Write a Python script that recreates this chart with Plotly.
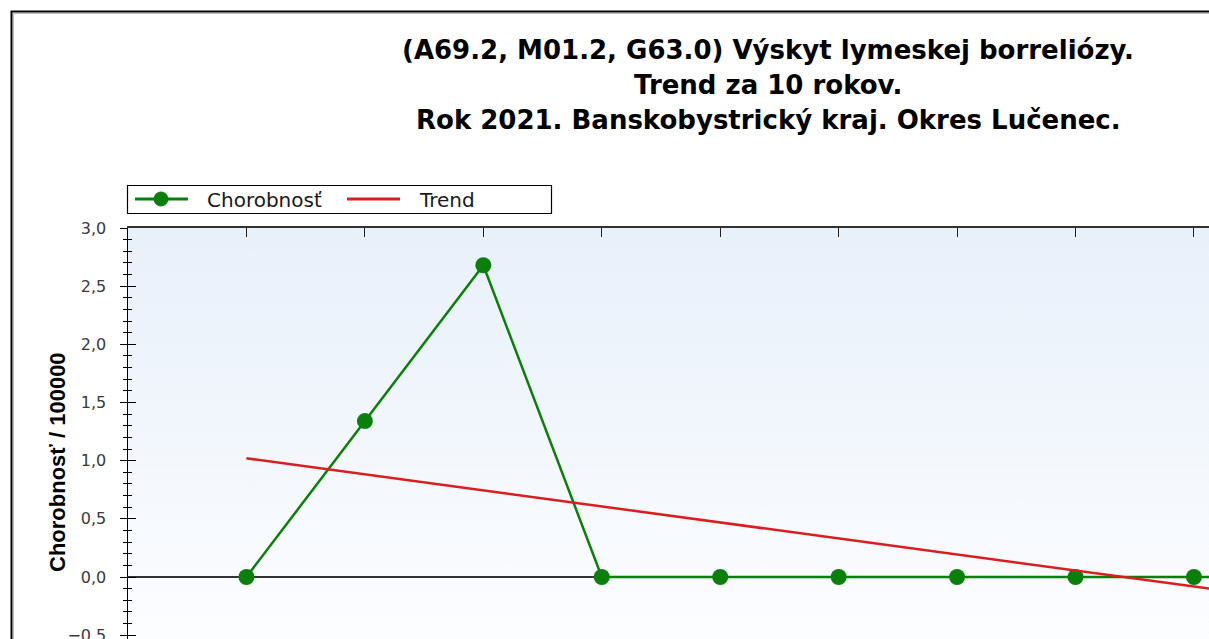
import base64
import plotly.graph_objects as go

# ---- data ----
years = [2012, 2013, 2014, 2015, 2016, 2017, 2018, 2019, 2020, 2021]
chorobnost = [0.0, 1.34, 2.68, 0.0, 0.0, 0.0, 0.0, 0.0, 0.0, 0.0]
trend_years = [2012, 2021]
trend_values = [1.02, -0.22]
title_lines = [
    "(A69.2, M01.2, G63.0) Výskyt lymeskej borreliózy.",
    "Trend za 10 rokov.",
    "Rok 2021. Banskobystrický kraj. Okres Lučenec.",
]
y_label = "Chorobnosť / 100000"
series_names = ["Chorobnosť", "Trend"]

# ---- geometry (pixels, in screenshot coordinates) ----
W, H = 1209, 639
L, T = 128, 228
PW, PH = W - L, H - T


def px_x(p):
    return (p - L) / PW


def px_y(p):
    return 1 + (T - p) / PH


GREEN = "#0a800a"
RED = "#d81e1e"

fig = go.Figure()
fig.add_trace(go.Scatter(
    x=years, y=chorobnost, name=series_names[0], mode="lines+markers",
    line=dict(color=GREEN, width=2.5), marker=dict(color=GREEN, size=16),
    hoverinfo="skip", showlegend=False))
fig.add_trace(go.Scatter(
    x=trend_years, y=trend_values, name=series_names[1], mode="lines",
    line=dict(color=RED, width=2.5), yaxis="y2", hoverinfo="skip",
    showlegend=False))

svg = ('<svg xmlns="http://www.w3.org/2000/svg" width="10" height="100" '
       'preserveAspectRatio="none"><defs><linearGradient id="g" x1="0" y1="0" '
       'x2="0" y2="1"><stop offset="0" stop-color="#e8f0fa"/>'
       '<stop offset="1" stop-color="#fcfdff"/></linearGradient></defs>'
       '<rect width="10" height="100" fill="url(#g)"/></svg>')
src = "data:image/svg+xml;base64," + base64.b64encode(svg.encode()).decode()

yr = [-0.533, 3.0]
common_minor = dict(dtick=0.1, ticklen=4, tickcolor="black", tickwidth=1)

annotations = []
for i, line in enumerate(title_lines):
    annotations.append(dict(
        text="<b>" + line + "</b>", xref="paper", yref="paper",
        x=px_x(768), y=px_y(50 + 35 * i), xanchor="center", yanchor="middle",
        showarrow=False, font=dict(family="DejaVu Sans", size=26, color="black")))
annotations.append(dict(
    text="<b>" + y_label + "</b>", xref="paper", yref="paper",
    x=px_x(57), y=px_y(462), xanchor="center", yanchor="middle", textangle=-90,
    showarrow=False, font=dict(family="Liberation Sans", size=22, color="black")))

# legend drawn as a framed box with sample lines, marker and labels
leg_font = dict(family="DejaVu Sans", size=20, color="#1a1a1a")
annotations.append(dict(text=series_names[0], xref="paper", yref="paper",
                        x=px_x(205), y=px_y(199.5), xanchor="left",
                        yanchor="middle", showarrow=False, font=leg_font))
annotations.append(dict(text=series_names[1], xref="paper", yref="paper",
                        x=px_x(417), y=px_y(199.5), xanchor="left",
                        yanchor="middle", showarrow=False, font=leg_font))

shapes = [
    dict(type="rect", xref="paper", yref="paper", x0=px_x(11.5),
         x1=px_x(1300), y0=px_y(700), y1=px_y(11.5),
         line=dict(color="black", width=2), layer="above"),
    dict(type="rect", xref="paper", yref="paper", x0=px_x(13.5),
         x1=px_x(1300), y0=px_y(700), y1=px_y(13.5),
         line=dict(color="#bbbbbb", width=1), layer="above"),
    # legend box
    dict(type="rect", xref="paper", yref="paper", x0=px_x(127.5),
         x1=px_x(551.5), y0=px_y(213.5), y1=px_y(185.5),
         line=dict(color="black", width=1.2), fillcolor="white"),
    dict(type="line", xref="paper", yref="paper", x0=px_x(135),
         x1=px_x(188), y0=px_y(199), y1=px_y(199),
         line=dict(color=GREEN, width=3)),
    dict(type="circle", xref="paper", yref="paper", x0=px_x(154),
         x1=px_x(168), y0=px_y(206), y1=px_y(192),
         line=dict(color=GREEN, width=1), fillcolor=GREEN),
    dict(type="line", xref="paper", yref="paper", x0=px_x(347),
         x1=px_x(400), y0=px_y(199), y1=px_y(199),
         line=dict(color=RED, width=3)),
]

fig.update_layout(
    width=W, height=H, autosize=False,
    margin=dict(l=L, r=0, t=T, b=0, pad=0, autoexpand=False),
    paper_bgcolor="white", plot_bgcolor="rgba(0,0,0,0)",
    separators=", ",
    showlegend=False,
    xaxis=dict(range=[2011, 2020.127], side="top", showline=True,
               linecolor="#333", linewidth=2, ticks="inside", ticklen=9,
               tickcolor="#222", tickvals=years, showticklabels=False,
               showgrid=False, zeroline=False, fixedrange=True,
               automargin=False),
    yaxis=dict(range=yr, showline=True, linecolor="black", linewidth=1.5,
               ticks="outside", ticklen=7, tickcolor="black", tickwidth=1,
               dtick=0.5, tick0=0, tickformat=".1f",
               minor=dict(ticks="outside", **common_minor),
               ticklabelstandoff=10, ticklabeloverflow="allow",
               tickfont=dict(family="DejaVu Sans", size=16, color="#3a3a3a"),
               showgrid=False, zeroline=True, zerolinecolor="#333",
               zerolinewidth=2, fixedrange=True, automargin=False),
    yaxis2=dict(range=yr, overlaying="y", side="left", anchor="x",
                ticks="inside", ticklen=8, tickcolor="black", tickwidth=1,
                dtick=0.5, tick0=0, minor=dict(ticks="inside", **common_minor),
                showticklabels=False, showline=False, showgrid=False,
                zeroline=False, fixedrange=True, automargin=False),
    images=[dict(source=src, xref="paper", yref="paper", x=0, y=1,
                 sizex=1, sizey=1, sizing="stretch", layer="below")],
    shapes=shapes,
    annotations=annotations,
)

page_css = ("document.body.style.margin='0';"
            "document.body.style.overflow='hidden';"
            "document.documentElement.style.overflow='hidden';")
fig.write_html("out.html", post_script=page_css,
               config={"responsive": False, "displayModeBar": False,
                       "staticPlot": True})
